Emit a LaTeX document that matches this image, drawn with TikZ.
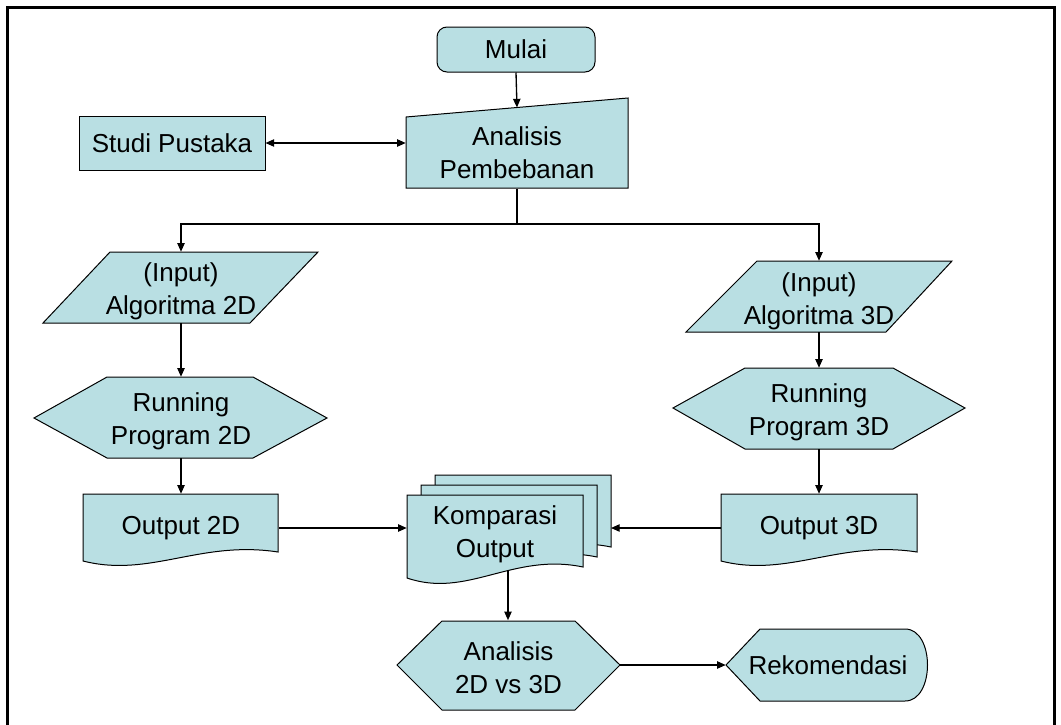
\documentclass[tikz,border=0pt]{standalone}
\usepackage{fontspec}
\setmainfont{Liberation Sans}
\usetikzlibrary{arrows.meta,calc}
\definecolor{boxfill}{RGB}{185,223,227}
\newcommand\lbl{\fontsize{19.5}{24.75}\selectfont}
\begin{document}
\begin{tikzpicture}[x=0.75pt,y=-0.75pt,
  shapeline/.style={draw=black,line width=0.75pt,fill=boxfill},
  hold/.style 2 args={minimum width=#1*0.75pt,minimum height=#2*0.75pt,inner sep=0pt,align=center,font=\lbl},
  txt/.style 2 args={label={[font=\lbl,align=center,inner sep=0pt,yshift=#1]center:{#2}}},
  flow/.style={line width=1pt,-{Triangle[length=6.5pt,width=5.5pt]}},
  link/.style={line width=1pt}]
\useasboundingbox (0,0) rectangle (1061,725);
% frame
\draw[line width=2.25pt] (7,725) -- (7,7) -- (1054,7) -- (1054,725);

% Mulai
\node[shapeline,rounded corners=7.5pt,hold={158}{45}] (mulai) at (516,49.5) {Mulai};

% Studi Pustaka
\node[shapeline,hold={186}{54}] (studi) at (172,143) {Studi Pustaka};

% Analisis Pembebanan (manual input)
\draw[shapeline] (406,117) -- (628,98) -- (628,188) -- (406,188) -- cycle;
\node[hold={222}{71}] (ap) at (517,153) {Analisis\\Pembebanan};
\coordinate (apin) at (517,107.5);

% Input 2D (parallelogram)
\draw[shapeline] (110,252) -- (318,252) -- (250,323) -- (43,323) -- cycle;
\node[hold={200}{71},txt={-3pt}{(Input)\\Algoritma 2D}] (in2) at (181,287.5) {};

% Input 3D
\draw[shapeline] (757,261) -- (952,261) -- (886,332) -- (686,332) -- cycle;
\node[hold={200}{71},txt={-3.75pt}{(Input)\\Algoritma 3D}] (in3) at (819,296.5) {};

% Running 2D (hexagon)
\draw[shapeline] (34,418) -- (107,377) -- (253,377) -- (327,418) -- (253,458) -- (107,458) -- cycle;
\node[hold={200}{81},txt={-3pt}{Running\\Program 2D}] (run2) at (181,417.5) {};

% Running 3D
\draw[shapeline] (673,408) -- (745,368) -- (893,368) -- (965,408) -- (893,449) -- (745,449) -- cycle;
\node[hold={200}{81},txt={-3pt}{Running\\Program 3D}] (run3) at (819,408.5) {};

% Output 2D (document)
\draw[shapeline] (83,494) -- (278,494) -- (278,552) .. controls (200,540) and (150,578) .. (83,561) -- cycle;
\node[hold={195}{68}] (out2) at (181,528) {Output 2D};

% Output 3D (document)
\draw[shapeline] (721,494) -- (917,494) -- (917,552) .. controls (839,540) and (788,578) .. (721,561) -- cycle;
\node[hold={196}{68}] (out3) at (819,528) {Output 3D};

% Komparasi Output (multi-document)
\draw[shapeline] (435,475) -- (611,475) -- (611,547) .. controls (540.6,532.3) and (495.5,578.8) .. (435,558) -- cycle;
\draw[shapeline] (421,485) -- (597,485) -- (597,557) .. controls (526.6,542.3) and (481.5,588.8) .. (421,568) -- cycle;
\draw[shapeline] (407,495) -- (583,495) -- (583,567) .. controls (512.6,552.3) and (467.5,598.8) .. (407,578) -- cycle;
\node[hold={176}{64}] (komp) at (495,534) {Komparasi\\Output};
\coordinate (kompback) at (611,528);
\coordinate (kompout) at (508,571);

% Analisis 2D vs 3D (hexagon)
\draw[shapeline] (397,665) -- (442,621) -- (575,621) -- (620,665) -- (575,710) -- (442,710) -- cycle;
\node[hold={223}{89},txt={-2.25pt}{Analisis\\2D vs 3D}] (ana) at (508.5,665) {};

% Rekomendasi (display)
\draw[shapeline] (726,665) -- (760,629) -- (905,629) .. controls (935,629) and (935,701) .. (905,701) -- (760,701) -- cycle;
\node[hold={204}{72}] (rek) at (828,665) {Rekomendasi};

% connectors
\draw[flow] (mulai.south) -- (apin);
\draw[flow,{Triangle[length=6.5pt,width=5.5pt]}-{Triangle[length=6.5pt,width=5.5pt]}] (studi.east) -- (studi.east -| ap.west);
\coordinate (split) at (517,224);
\draw[link] (ap.south) -- (split);
\draw[flow] (split) -| (in2.north);
\draw[flow] (split) -| (in3.north);
\draw[flow] (in2.south) -- (run2.north);
\draw[flow] (in3.south) -- (run3.north);
\draw[flow] (run2.south) -- (out2.north);
\draw[flow] (run3.south) -- (out3.north);
\draw[flow] (out2.east) -- (out2.east -| komp.west);
\draw[flow] (out3.west) -- (kompback);
\draw[flow] (kompout) -- (kompout |- ana.north);
\draw[flow] (ana.east) -- (rek.west);
\end{tikzpicture}
\end{document}
